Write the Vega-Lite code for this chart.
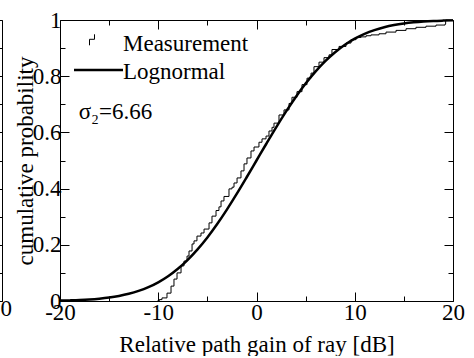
{
  "$schema": "https://vega.github.io/schema/vega-lite/v6.json",
  "padding": {"left": -98, "top": 9, "right": 0, "bottom": 0},
  "background": "white",
  "bounds": "flush",
  "spacing": 58,
  "config": {
    "font": "Liberation Serif",
    "view": {"stroke": null},
    "axis": {
      "grid": false,
      "domainColor": "black",
      "tickColor": "black",
      "labelColor": "black",
      "titleColor": "black",
      "labelFont": "Liberation Serif",
      "titleFont": "Liberation Serif",
      "labelFontSize": 23,
      "titleFontSize": 23,
      "titleFontWeight": "normal",
      "labelFlush": false,
      "labelOverlap": false,
      "domainWidth": 1,
      "tickWidth": 1
    },
    "legend": {
      "labelFont": "Liberation Serif",
      "labelFontSize": 23,
      "labelColor": "black"
    }
  },
  "datasets": {
    "logn": [
      {"gain": -20, "p": 0.0013, "series": "Lognormal"},
      {"gain": -19, "p": 0.0022, "series": "Lognormal"},
      {"gain": -18, "p": 0.0034, "series": "Lognormal"},
      {"gain": -17, "p": 0.0053, "series": "Lognormal"},
      {"gain": -16, "p": 0.0082, "series": "Lognormal"},
      {"gain": -15, "p": 0.0122, "series": "Lognormal"},
      {"gain": -14, "p": 0.0178, "series": "Lognormal"},
      {"gain": -13, "p": 0.0255, "series": "Lognormal"},
      {"gain": -12, "p": 0.0358, "series": "Lognormal"},
      {"gain": -11, "p": 0.0493, "series": "Lognormal"},
      {"gain": -10, "p": 0.0666, "series": "Lognormal"},
      {"gain": -9, "p": 0.0883, "series": "Lognormal"},
      {"gain": -8, "p": 0.1149, "series": "Lognormal"},
      {"gain": -7, "p": 0.1466, "series": "Lognormal"},
      {"gain": -6, "p": 0.1838, "series": "Lognormal"},
      {"gain": -5, "p": 0.2263, "series": "Lognormal"},
      {"gain": -4, "p": 0.274, "series": "Lognormal"},
      {"gain": -3, "p": 0.3263, "series": "Lognormal"},
      {"gain": -2, "p": 0.382, "series": "Lognormal"},
      {"gain": -1, "p": 0.4404, "series": "Lognormal"},
      {"gain": 0, "p": 0.5, "series": "Lognormal"},
      {"gain": 1, "p": 0.5596, "series": "Lognormal"},
      {"gain": 2, "p": 0.618, "series": "Lognormal"},
      {"gain": 3, "p": 0.6737, "series": "Lognormal"},
      {"gain": 4, "p": 0.726, "series": "Lognormal"},
      {"gain": 5, "p": 0.7737, "series": "Lognormal"},
      {"gain": 6, "p": 0.8162, "series": "Lognormal"},
      {"gain": 7, "p": 0.8534, "series": "Lognormal"},
      {"gain": 8, "p": 0.8851, "series": "Lognormal"},
      {"gain": 9, "p": 0.9117, "series": "Lognormal"},
      {"gain": 10, "p": 0.9334, "series": "Lognormal"},
      {"gain": 11, "p": 0.9507, "series": "Lognormal"},
      {"gain": 12, "p": 0.9642, "series": "Lognormal"},
      {"gain": 13, "p": 0.9745, "series": "Lognormal"},
      {"gain": 14, "p": 0.9822, "series": "Lognormal"},
      {"gain": 15, "p": 0.9878, "series": "Lognormal"},
      {"gain": 16, "p": 0.9918, "series": "Lognormal"},
      {"gain": 17, "p": 0.9947, "series": "Lognormal"},
      {"gain": 18, "p": 0.9966, "series": "Lognormal"},
      {"gain": 19, "p": 0.9978, "series": "Lognormal"},
      {"gain": 20, "p": 0.9987, "series": "Lognormal"}
    ],
    "meas": [
      {"gain": -10.1, "p": 0.0, "series": "Measurement"},
      {"gain": -9.9, "p": 0.005, "series": "Measurement"},
      {"gain": -9.62, "p": 0.011, "series": "Measurement"},
      {"gain": -9.11, "p": 0.028, "series": "Measurement"},
      {"gain": -8.7, "p": 0.053, "series": "Measurement"},
      {"gain": -8.4, "p": 0.078, "series": "Measurement"},
      {"gain": -8.09, "p": 0.1, "series": "Measurement"},
      {"gain": -7.68, "p": 0.125, "series": "Measurement"},
      {"gain": -7.38, "p": 0.142, "series": "Measurement"},
      {"gain": -7.07, "p": 0.16, "series": "Measurement"},
      {"gain": -6.87, "p": 0.178, "series": "Measurement"},
      {"gain": -6.56, "p": 0.203, "series": "Measurement"},
      {"gain": -6.36, "p": 0.214, "series": "Measurement"},
      {"gain": -6.06, "p": 0.231, "series": "Measurement"},
      {"gain": -5.65, "p": 0.242, "series": "Measurement"},
      {"gain": -5.34, "p": 0.256, "series": "Measurement"},
      {"gain": -4.83, "p": 0.278, "series": "Measurement"},
      {"gain": -4.53, "p": 0.302, "series": "Measurement"},
      {"gain": -4.12, "p": 0.322, "series": "Measurement"},
      {"gain": -3.82, "p": 0.335, "series": "Measurement"},
      {"gain": -3.61, "p": 0.356, "series": "Measurement"},
      {"gain": -3.31, "p": 0.372, "series": "Measurement"},
      {"gain": -2.8, "p": 0.399, "series": "Measurement"},
      {"gain": -2.49, "p": 0.405, "series": "Measurement"},
      {"gain": -2.29, "p": 0.42, "series": "Measurement"},
      {"gain": -1.98, "p": 0.438, "series": "Measurement"},
      {"gain": -1.58, "p": 0.463, "series": "Measurement"},
      {"gain": -1.27, "p": 0.488, "series": "Measurement"},
      {"gain": -0.97, "p": 0.509, "series": "Measurement"},
      {"gain": -0.56, "p": 0.534, "series": "Measurement"},
      {"gain": -0.25, "p": 0.548, "series": "Measurement"},
      {"gain": 0.25, "p": 0.565, "series": "Measurement"},
      {"gain": 0.56, "p": 0.577, "series": "Measurement"},
      {"gain": 0.97, "p": 0.587, "series": "Measurement"},
      {"gain": 1.27, "p": 0.605, "series": "Measurement"},
      {"gain": 1.58, "p": 0.618, "series": "Measurement"},
      {"gain": 1.78, "p": 0.633, "series": "Measurement"},
      {"gain": 2.29, "p": 0.662, "series": "Measurement"},
      {"gain": 2.8, "p": 0.68, "series": "Measurement"},
      {"gain": 3.31, "p": 0.703, "series": "Measurement"},
      {"gain": 3.61, "p": 0.725, "series": "Measurement"},
      {"gain": 4.12, "p": 0.745, "series": "Measurement"},
      {"gain": 4.63, "p": 0.77, "series": "Measurement"},
      {"gain": 5.14, "p": 0.793, "series": "Measurement"},
      {"gain": 5.55, "p": 0.811, "series": "Measurement"},
      {"gain": 5.85, "p": 0.834, "series": "Measurement"},
      {"gain": 6.36, "p": 0.85, "series": "Measurement"},
      {"gain": 6.87, "p": 0.866, "series": "Measurement"},
      {"gain": 7.38, "p": 0.876, "series": "Measurement"},
      {"gain": 7.68, "p": 0.895, "series": "Measurement"},
      {"gain": 8.4, "p": 0.906, "series": "Measurement"},
      {"gain": 9.11, "p": 0.918, "series": "Measurement"},
      {"gain": 9.62, "p": 0.93, "series": "Measurement"},
      {"gain": 10.13, "p": 0.938, "series": "Measurement"},
      {"gain": 10.64, "p": 0.94, "series": "Measurement"},
      {"gain": 11.15, "p": 0.944, "series": "Measurement"},
      {"gain": 11.65, "p": 0.947, "series": "Measurement"},
      {"gain": 12.47, "p": 0.951, "series": "Measurement"},
      {"gain": 13.18, "p": 0.957, "series": "Measurement"},
      {"gain": 14.2, "p": 0.963, "series": "Measurement"},
      {"gain": 15.22, "p": 0.969, "series": "Measurement"},
      {"gain": 16.23, "p": 0.974, "series": "Measurement"},
      {"gain": 17.25, "p": 0.978, "series": "Measurement"},
      {"gain": 18.27, "p": 0.982, "series": "Measurement"},
      {"gain": 19.19, "p": 0.985, "series": "Measurement"},
      {"gain": 19.25, "p": 1.0, "series": "Measurement"},
      {"gain": 20, "p": 1.0, "series": "Measurement"}
    ]
  },
  "resolve": {"legend": {"color": "independent", "opacity": "independent"}},
  "hconcat": [
    {
      "width": 100,
      "height": 281,
      "data": {"values": [{"gain": 20, "p": 1}]},
      "layer": [
        {
          "mark": {"type": "point", "opacity": 0},
          "encoding": {
            "x": {"field": "gain", "type": "quantitative", "scale": {"domain": [-20, 20], "nice": false, "zero": false},
              "axis": {"orient": "bottom", "values": [20], "labelExpr": "'' + datum.value", "tickSize": -9, "labelPadding": 5, "labelOffset": -2, "title": null}},
            "y": {"field": "p", "type": "quantitative", "scale": {"domain": [0, 1], "nice": false},
              "axis": {"orient": "right", "values": [0, 0.1, 0.2, 0.3, 0.4, 0.5, 0.6, 0.7, 0.8, 0.9, 1], "labels": false, "title": null,
                "tickSize": {"condition": {"test": "round(datum.value * 10) % 2 === 0", "value": -9}, "value": -5}}}
          }
        },
        {
          "mark": {"type": "point", "opacity": 0},
          "encoding": {
            "x": {"field": "gain", "type": "quantitative", "axis": {"orient": "top", "labels": false, "ticks": false, "title": null}},
            "y": {"field": "p", "type": "quantitative", "axis": {"orient": "left", "labels": false, "ticks": false, "title": null}}
          }
        }
      ],
      "resolve": {"axis": {"x": "independent", "y": "independent"}}
    },
    {
      "width": 393,
      "height": 281,
      "layer": [
        {
          "data": {"name": "logn"},
          "mark": {"type": "line", "interpolate": "monotone", "strokeWidth": 2.5},
          "encoding": {
            "x": {"field": "gain", "type": "quantitative", "scale": {"domain": [-20, 20], "nice": false, "zero": false},
              "axis": {"orient": "bottom", "values": [-20, -15, -10, -5, 0, 5, 10, 15, 20],
                "labelExpr": "datum.value % 10 === 0 ? '' + datum.value : ''",
                "tickSize": {"condition": {"test": "datum.value % 10 === 0", "value": -9}, "value": -5},
                "labelPadding": 9, "title": "Relative path gain of ray [dB]", "titlePadding": 5}},
            "y": {"field": "p", "type": "quantitative", "scale": {"domain": [0, 1], "nice": false},
              "axis": {"orient": "left", "values": [0, 0.1, 0.2, 0.3, 0.4, 0.5, 0.6, 0.7, 0.8, 0.9, 1],
                "labelExpr": "round(datum.value * 10) % 2 === 1 ? '' : (datum.value === 0 ? '0' : datum.value === 1 ? '1' : format(datum.value, '.1f'))",
                "tickSize": {"condition": {"test": "round(datum.value * 10) % 2 === 0", "value": -9}, "value": -5},
                "labelPadding": 8, "title": "cumulative probability", "titlePadding": -5}},
            "color": {"field": "series", "type": "nominal",
              "scale": {"domain": ["Lognormal"], "range": ["black"]},
              "legend": {
                "orient": "none", "legendX": 46.5, "legendY": 40.5, "title": null,
                "symbolType": "M-8.8,-0.4L1,-0.4", "symbolSize": 100, "symbolStrokeWidth": 2.5,
                "symbolStrokeColor": "black", "symbolFillColor": "transparent",
                "labelOffset": -6.5, "padding": 0
              }}
          }
        },
        {
          "data": {"name": "meas"},
          "mark": {"type": "line", "interpolate": "step-after", "strokeWidth": 1, "color": "black"},
          "encoding": {
            "x": {"field": "gain", "type": "quantitative",
              "axis": {"orient": "top", "values": [-20, -15, -10, -5, 0, 5, 10, 15, 20], "labels": false, "title": null,
                "tickSize": {"condition": {"test": "datum.value % 10 === 0", "value": -9}, "value": -5}}},
            "y": {"field": "p", "type": "quantitative",
              "axis": {"orient": "right", "values": [0, 0.1, 0.2, 0.3, 0.4, 0.5, 0.6, 0.7, 0.8, 0.9, 1], "labels": false, "title": null,
                "tickSize": {"condition": {"test": "round(datum.value * 10) % 2 === 0", "value": -9}, "value": -5}}},
            "opacity": {"field": "series", "type": "nominal",
              "scale": {"domain": ["Measurement"], "range": [1]},
              "legend": {
                "orient": "none", "legendX": 46.5, "legendY": 12, "title": null,
                "symbolType": "M-5.7,0.36L-5.7,-0.84L-4.7,-0.84L-4.7,-1.84", "symbolSize": 100, "symbolStrokeWidth": 1,
                "symbolStrokeColor": "black", "symbolFillColor": "transparent",
                "labelOffset": -6.5, "padding": 0
              }}
          }
        },
        {
          "data": {"values": [{"label": "σ₂=6.66"}]},
          "mark": {"type": "text", "align": "left", "baseline": "alphabetic", "fontSize": 23, "font": "Liberation Serif", "color": "black"},
          "encoding": {
            "text": {"field": "label"},
            "x": {"datum": -18.1, "type": "quantitative", "axis": null},
            "y": {"datum": 0.648, "type": "quantitative", "axis": null}
          }
        }
      ],
      "resolve": {"axis": {"x": "independent", "y": "independent"}}
    }
  ]
}
